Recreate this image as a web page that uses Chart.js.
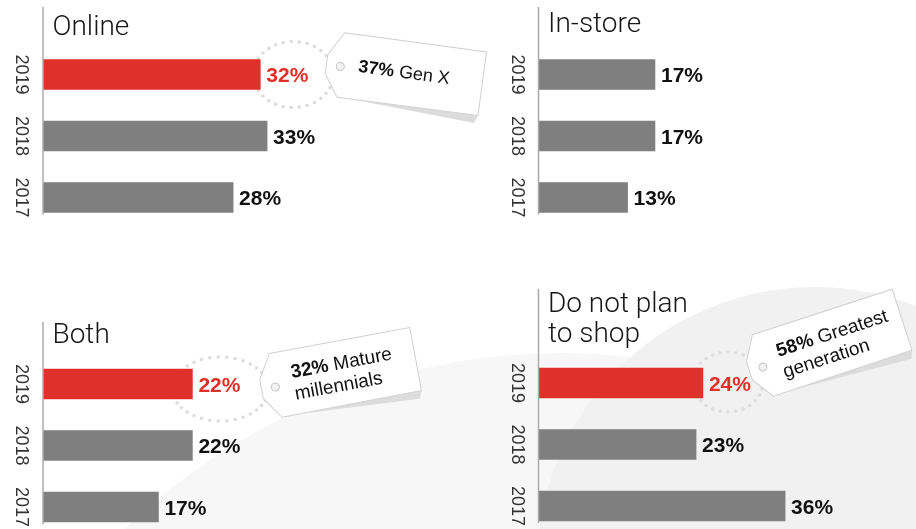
<!DOCTYPE html>
<html><head><meta charset="utf-8">
<script src="https://cdn.jsdelivr.net/npm/chart.js@4.4.1/dist/chart.umd.min.js"></script>
<style>
html,body{margin:0;padding:0;background:#fff;overflow:hidden;width:916px;height:529px}
#wrap{position:relative;width:916px;height:529px;overflow:hidden}
canvas{position:absolute;left:0;top:0}
</style></head><body>
<div id="wrap">
<canvas id="c1" width="916" height="560"></canvas>
<canvas id="c2" width="916" height="560"></canvas>
<canvas id="c3" width="916" height="560"></canvas>
<canvas id="c4" width="916" height="560"></canvas>
</div>
<script>
// ---- data ----
const years = ['2019', '2018', '2017'];
const onlineShare = [32, 33, 28];
const inStoreShare = [17, 17, 13];
const bothShare = [22, 22, 17];
const noShopShare = [24, 23, 36];
const titleOnline = ['Online'];
const titleInStore = ['In-store'];
const titleBoth = ['Both'];
const titleNoShop = ['Do not plan', 'to shop'];
const tagOnline = ['37%', 'Gen X'];
const tagBoth = ['32%', 'Mature', 'millennials'];
const tagNoShop = ['58%', 'Greatest', 'generation'];

const RED = '#e0302a', GREY = '#7f7f7f';
const FONT = '"Liberation Sans", Arial, Helvetica, sans-serif';
const TITLE_FONT = '300 28px Roboto, "Liberation Sans", sans-serif';

function drawRing(ctx, cx, cy, rx, ry) {
  const per = 2 * Math.PI * Math.sqrt((rx * rx + ry * ry) / 2);
  const n = Math.round(per / 7.4);
  ctx.save();
  ctx.fillStyle = '#dddddd';
  for (let i = 0; i < n; i++) {
    const t = i / n * Math.PI * 2;
    ctx.beginPath();
    ctx.arc(cx + rx * Math.cos(t), cy + ry * Math.sin(t), 1.8, 0, Math.PI * 2);
    ctx.fill();
  }
  ctx.restore();
}

function drawTag(ctx, hx, hy, deg, w, parts, fs, lineYs) {
  ctx.save();
  ctx.translate(hx, hy);
  ctx.rotate(deg * Math.PI / 180);
  ctx.fillStyle = '#dcdcdc';
  ctx.beginPath(); ctx.moveTo(20, 31); ctx.lineTo(w, 30); ctx.lineTo(w - 3, 38); ctx.closePath(); ctx.fill();
  ctx.beginPath();
  ctx.moveTo(0, -34); ctx.lineTo(w, -34); ctx.lineTo(w, 30); ctx.lineTo(1, 31);
  ctx.lineTo(-14, 9); ctx.lineTo(-14, -10); ctx.closePath();
  ctx.fillStyle = '#fff'; ctx.fill();
  ctx.strokeStyle = '#d0d0d0'; ctx.lineWidth = 1; ctx.stroke();
  ctx.beginPath(); ctx.arc(0, 0, 4, 0, Math.PI * 2);
  ctx.fillStyle = '#f2f2f2'; ctx.fill(); ctx.strokeStyle = '#c2c2c2'; ctx.stroke();
  ctx.fillStyle = '#111';
  ctx.textBaseline = 'middle'; ctx.textAlign = 'left';
  ctx.font = 'bold ' + fs + 'px ' + FONT;
  ctx.fillText(parts[0], 18, lineYs[0]);
  const pw = ctx.measureText(parts[0] + ' ').width;
  ctx.font = fs + 'px ' + FONT;
  ctx.fillText(parts[1], 18 + pw, lineYs[0]);
  for (let i = 2; i < parts.length; i++) ctx.fillText(parts[i], 18, lineYs[i - 1]);
  ctx.restore();
}

const bgPlugin = {
  id: 'bgShapes',
  beforeDraw(chart) {
    const ctx = chart.ctx;
    ctx.save();
    ctx.fillStyle = '#f7f7f7';
    ctx.beginPath(); ctx.arc(562, 986, 633, 0, Math.PI * 2); ctx.fill();
    ctx.fillStyle = '#f1f1f1';
    ctx.beginPath(); ctx.arc(815, 565, 278, 0, Math.PI * 2); ctx.fill();
    ctx.restore();
  }
};

const decorPlugin = {
  id: 'panelDecor',
  beforeDatasetsDraw(chart, args, o) {
    if (!o.ring) return;
    const b = chart.getDatasetMeta(0).data[0];
    drawRing(chart.ctx, b.x + o.ring.dx, b.y + o.ring.dy, o.ring.rx, o.ring.ry);
  },
  afterDatasetsDraw(chart, args, o) {
    const ctx = chart.ctx;
    const meta = chart.getDatasetMeta(0);
    const ds = chart.data.datasets[0];
    const first = meta.data[0], last = meta.data[meta.data.length - 1];
    const firstTop = first.y - first.height / 2;
    const lastBottom = last.y + last.height / 2;
    const x = chart.chartArea.left;
    ctx.save();
    ctx.strokeStyle = '#ababab'; ctx.lineWidth = 1.5;
    ctx.beginPath(); ctx.moveTo(x, firstTop + o.axisTop); ctx.lineTo(x, lastBottom + 2); ctx.stroke();
    ctx.fillStyle = '#161616'; ctx.font = TITLE_FONT; ctx.textAlign = 'left'; ctx.textBaseline = 'alphabetic';
    o.title.forEach((t, i) => ctx.fillText(t, x + 9.5, firstTop + o.titleBase[i]));
    ctx.font = 'bold 21px ' + FONT; ctx.textBaseline = 'middle';
    meta.data.forEach((b, i) => {
      const col = ds.backgroundColor[i];
      ctx.fillStyle = col === RED ? RED : '#111';
      ctx.fillText(ds.data[i] + '%', b.x + 6, b.y + 2);
    });
    ctx.restore();
  },
  afterDraw(chart, args, o) {
    if (!o.tag) return;
    const b = chart.getDatasetMeta(0).data[0];
    const t = o.tag;
    drawTag(chart.ctx, b.x + t.dx, b.y + t.dy, t.angle, t.w, t.parts, t.fs, t.lineYs);
  }
};

function makePanel(id, values, highlight, pad, decor, extraPlugins) {
  return new Chart(document.getElementById(id), {
    type: 'bar',
    data: {
      labels: years,
      datasets: [{
        data: values,
        backgroundColor: values.map((v, i) => (highlight && i === 0) ? RED : GREY),
        barThickness: 30,
        borderWidth: 0
      }]
    },
    options: {
      indexAxis: 'y',
      responsive: false,
      animation: false,
      events: [],
      layout: { padding: pad },
      scales: {
        x: { display: false, min: 0, max: 50 },
        y: {
          type: 'category',
          grid: { display: false, drawTicks: false },
          border: { display: false },
          afterFit(scale) { scale.width = 43; },
          ticks: {
            autoSkip: false,
            minRotation: -90, maxRotation: -90,
            crossAlign: 'center',
            padding: 2,
            color: '#333',
            font: { family: FONT, size: 18 }
          }
        }
      },
      plugins: {
        legend: { display: false },
        tooltip: { enabled: false },
        title: { display: false },
        panelDecor: decor
      }
    },
    plugins: (extraPlugins || []).concat([decorPlugin])
  });
}

makePanel('c1', onlineShare, true,
  { left: 0, right: 533.5, top: 43.75, bottom: 560 - 228.25 },
  { title: titleOnline, titleBase: [-24.5], axisTop: -52.5,
    ring: { dx: 33, dy: 0, rx: 40, ry: 33 },
    tag: { dx: 80, dy: -8, angle: 7.7, w: 143, parts: tagOnline, fs: 18, lineYs: [-2] } },
  [bgPlugin]);

makePanel('c2', inStoreShare, false,
  { left: 495.5, right: 35, top: 43.75, bottom: 560 - 228.25 },
  { title: titleInStore, titleBase: [-27.5], axisTop: -52.5 });

makePanel('c3', bothShare, true,
  { left: 0, right: 533.5, top: 353.25, bottom: 560 - 537.75 },
  { title: titleBoth, titleBase: [-26], axisTop: -47,
    ring: { dx: 28, dy: 5, rx: 48, ry: 32 },
    tag: { dx: 83, dy: 3, angle: -10.5, w: 143, parts: tagBoth, fs: 19, lineYs: [-11, 11] } });

makePanel('c4', noShopShare, true,
  { left: 495.5, right: 35, top: 352.25, bottom: 560 - 536.75 },
  { title: titleNoShop, titleBase: [-56, -26], axisTop: -79,
    ring: { dx: 25, dy: -1, rx: 35, ry: 30 },
    tag: { dx: 60, dy: -16, angle: -18, w: 147, parts: tagNoShop, fs: 19, lineYs: [-10, 12] } });
</script>
</body></html>
